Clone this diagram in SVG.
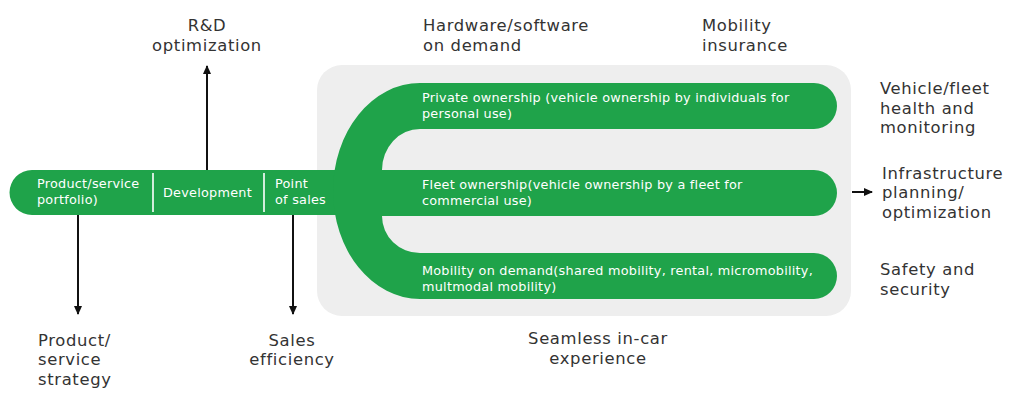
<svg xmlns="http://www.w3.org/2000/svg" width="1020" height="400" viewBox="0 0 1020 400">
<style>
.lbl{font-family:"DejaVu Sans","Liberation Sans",sans-serif;font-size:16.4px;letter-spacing:0.65px;fill:#333333}
.bt{font-family:"DejaVu Sans","Liberation Sans",sans-serif;font-size:12.8px;letter-spacing:0.25px;fill:#ffffff}
.green{fill:#1fa34a}
.arr{stroke:#111111;stroke-width:2;fill:none;marker-end:url(#ah)}
.div{stroke:#ffffff;stroke-width:1.6}
.mid{text-anchor:middle}
</style>
<defs>
<marker id="ah" markerUnits="userSpaceOnUse" markerWidth="9" markerHeight="8" refX="8" refY="4" orient="auto">
<path d="M0,0 L9,4 L0,8 Z" fill="#111111"/>
</marker>
</defs>
<rect id="panel" x="317" y="65" width="534" height="251" rx="25" fill="#eeeeee"/>
<g id="connectors">
<line class="arr" x1="207" y1="170" x2="207" y2="66"/>
<line class="arr" x1="78" y1="215" x2="78" y2="314"/>
<line class="arr" x1="293" y1="215" x2="293" y2="314"/>
<line class="arr" x1="852" y1="192" x2="872" y2="192"/>
</g>
<g id="value-chain">
<path class="green" d="M32,170 H345 V215 H32 A22.5,22.5 0 0 1 32,170 Z"/>
<line class="div" x1="153" y1="173" x2="153" y2="212"/>
<line class="div" x1="264" y1="173" x2="264" y2="212"/>
<text class="bt"><tspan x="37" y="188">Product/service</tspan><tspan x="37" y="203.5">portfolio)</tspan></text>
<text class="bt" x="163" y="197">Development</text>
<text class="bt"><tspan x="275" y="188">Point</tspan><tspan x="275" y="203.5">of sales</tspan></text>
</g>
<g id="ownership-branches">
<path class="green" d="M420,83 H814 A23,23 0 0 1 814,129 H420 A38,41 0 0 0 382,170 H814 A23,23 0 0 1 814,216 H382 A38,37 0 0 0 420,253 H814 A23,23 0 0 1 814,299 H420 A87,108 0 0 1 333,191 A87,108 0 0 1 420,83 Z"/>
</g>
<g id="private-ownership">
<text class="bt"><tspan x="422" y="102">Private ownership (vehicle ownership by individuals for</tspan><tspan x="422" y="117.5">personal use)</tspan></text>
</g>
<g id="fleet-ownership">
<text class="bt"><tspan x="422" y="189">Fleet ownership(vehicle ownership by a fleet for</tspan><tspan x="422" y="204.5">commercial use)</tspan></text>
</g>
<g id="mobility-on-demand">
<text class="bt"><tspan x="422" y="275">Mobility on demand(shared mobility, rental, micromobility,</tspan><tspan x="422" y="290.5">multmodal mobility)</tspan></text>
</g>
<g id="rd-optimization">
<text class="lbl mid"><tspan x="207" y="31">R&amp;D</tspan><tspan x="207" y="50.5">optimization</tspan></text>
</g>
<g id="hw-sw-on-demand">
<text class="lbl"><tspan x="423" y="31">Hardware/software</tspan><tspan x="423" y="50.5">on demand</tspan></text>
</g>
<g id="mobility-insurance">
<text class="lbl"><tspan x="702" y="31">Mobility</tspan><tspan x="702" y="50.5">insurance</tspan></text>
</g>
<g id="vehicle-health">
<text class="lbl"><tspan x="880" y="94">Vehicle/fleet</tspan><tspan x="880" y="113.5">health and</tspan><tspan x="880" y="133">monitoring</tspan></text>
</g>
<g id="infrastructure">
<text class="lbl"><tspan x="882" y="178.5">Infrastructure</tspan><tspan x="882" y="198">planning/</tspan><tspan x="882" y="217.5">optimization</tspan></text>
</g>
<g id="safety">
<text class="lbl"><tspan x="880" y="275">Safety and</tspan><tspan x="880" y="294.5">security</tspan></text>
</g>
<g id="product-strategy">
<text class="lbl"><tspan x="38" y="345.5">Product/</tspan><tspan x="38" y="365">service</tspan><tspan x="38" y="384.5">strategy</tspan></text>
</g>
<g id="sales-efficiency">
<text class="lbl mid"><tspan x="292" y="345.5">Sales</tspan><tspan x="292" y="365">efficiency</tspan></text>
</g>
<g id="seamless">
<text class="lbl mid"><tspan x="598" y="344">Seamless in-car</tspan><tspan x="598" y="363.5">experience</tspan></text>
</g>
</svg>
